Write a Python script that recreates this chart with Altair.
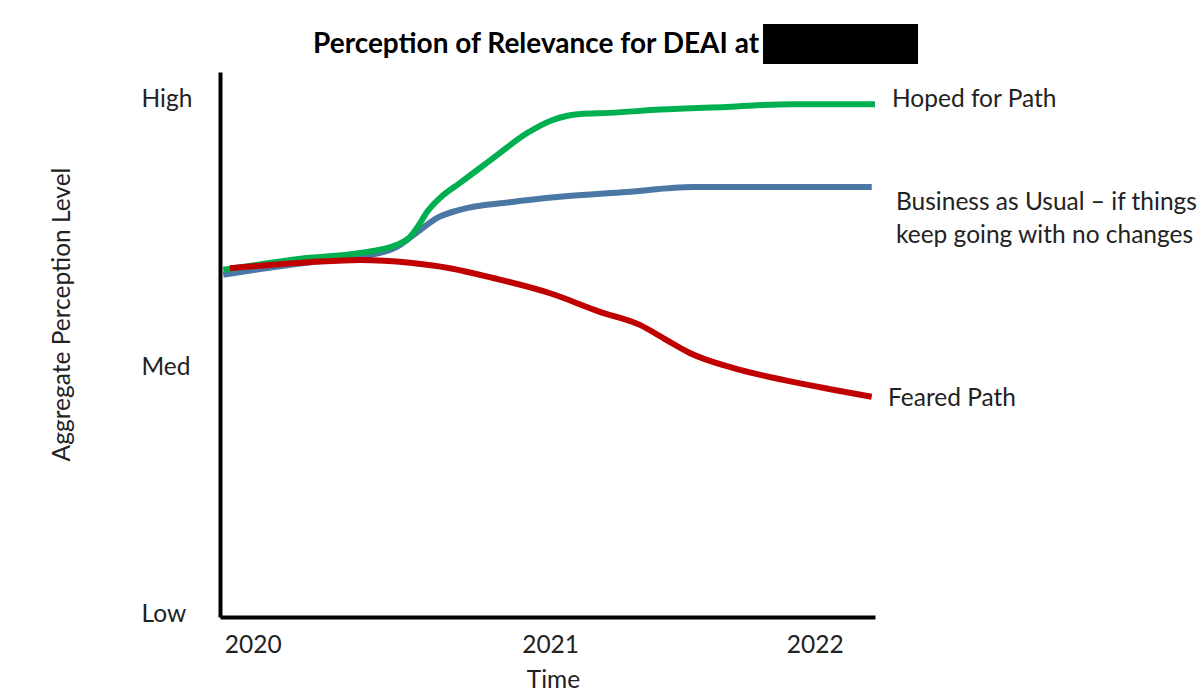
import altair as alt
import pandas as pd

# ---- data (time index 0..100 across the axis, level 0..100 Low->High) ----
bau_t = [0.5, 13.7, 21.4, 27.0, 30.1, 33.1, 36.6, 44.3, 51.9, 62.1, 72.2, 77.4, 99.5]
bau_v = [62.8, 65.1, 66.1, 67.9, 70.6, 73.2, 74.7, 76.1, 77.1, 78.0, 78.9, 78.9, 78.9]

hoped_t = [0.5, 13.7, 21.4, 27.0, 29.0, 30.2, 31.6, 33.6, 36.6, 41.7, 46.9, 50.8, 55.0, 59.5, 67.2, 77.4, 87.5, 100.0]
hoped_v = [63.7, 65.9, 66.8, 68.3, 69.7, 71.6, 74.3, 76.9, 79.6, 84.2, 88.8, 91.2, 92.3, 92.5, 93.1, 93.6, 94.1, 94.1]

feared_t = [1.5, 13.7, 21.4, 29.0, 35.1, 41.7, 50.4, 58.0, 64.1, 68.2, 71.8, 78.3, 86.0, 93.6, 99.5]
feared_v = [64.0, 65.1, 65.5, 65.0, 64.0, 62.2, 59.4, 56.0, 53.6, 50.8, 48.4, 45.7, 43.5, 41.7, 40.4]

series_names = ["Business as Usual", "Hoped for Path", "Feared Path"]
series_colors = ["#4A77A3", "#00B050", "#C00000"]

x_tick_values = [5.0, 50.4, 90.8]
x_tick_labels = ["2020", "2021", "2022"]
y_tick_values = [0.5, 45.7, 94.9]
y_tick_labels = ["Low", "Med", "High"]

label_texts = ["Business as Usual \u2013 if things\nkeep going with no changes", "Hoped for Path", "Feared Path"]
label_x = [100, 100, 100]
label_y = [76.0, 94.9, 40.0]
label_dx = [21, 17, 13]

title_text = "Perception of Relevance for DEAI at"

# ---- build tables ----
rows = []
for name, ts, vs in [(series_names[0], bau_t, bau_v),
                     (series_names[1], hoped_t, hoped_v),
                     (series_names[2], feared_t, feared_v)]:
    for t, v in zip(ts, vs):
        rows.append({"series": name, "t": t, "v": v})
df = pd.DataFrame(rows)

labels_df = pd.DataFrame({"series": series_names, "t": label_x, "v": label_y,
                          "text": label_texts})


def label_expr(values, labels):
    parts = []
    for val, lab in zip(values, labels):
        parts.append(f"abs(datum.value - {val}) < 0.01 ? '{lab}'")
    return " : ".join(parts) + " : ''"


FONT = "Lato"
FS = 24.5
x_scale = alt.Scale(domain=[0, 100], nice=False, zero=False)
y_scale = alt.Scale(domain=[0, 100], nice=False, zero=False)

x_axis = alt.Axis(values=x_tick_values, labelExpr=label_expr(x_tick_values, x_tick_labels),
                  title="Time", grid=False, ticks=False, domainColor="black", domainWidth=4,
                  labelFont=FONT, labelFontSize=FS, labelColor="#222", labelPadding=16,
                  titleFont=FONT, titleFontSize=FS, titleFontWeight="normal", titleColor="#222",
                  titleX=333, titleY=63, titleBaseline="middle")
y_axis = alt.Axis(values=y_tick_values, labelExpr=label_expr(y_tick_values, y_tick_labels),
                  title="Aggregate Perception Level", grid=False, ticks=False,
                  domainColor="black", domainWidth=4,
                  labelFont=FONT, labelFontSize=FS, labelColor="#222", labelPadding=79,
                  labelAlign="left", labelBaseline="middle",
                  titleFont=FONT, titleFontSize=FS, titleFontWeight="normal", titleColor="#222",
                  titleX=-158, titleY=242, titleBaseline="middle")

X = alt.X("t:Q", scale=x_scale, axis=x_axis)
Y = alt.Y("v:Q", scale=y_scale, axis=y_axis)

layers = []
for i, name in enumerate(series_names):
    layers.append(
        alt.Chart(df).transform_filter(alt.datum.series == name)
        .mark_line(strokeWidth=6, interpolate="monotone", color=series_colors[i], strokeCap="butt")
        .encode(x=X, y=Y, order="t:Q")
    )

label_layers = []
for i in range(len(series_names)):
    sub = labels_df.iloc[[i]]
    label_layers.append(
        alt.Chart(sub).mark_text(
            align="left", baseline="middle", font=FONT, fontSize=FS, color="#222",
            lineBreak="\n", lineHeight=33, dx=label_dx[i]
        ).encode(x=X, y=Y, text="text:N")
    )

one = pd.DataFrame({"title": [title_text]})
title_mark = alt.Chart(one).mark_text(
    align="left", baseline="middle", font=FONT, fontSize=28, fontWeight="bold", color="black"
).encode(x=alt.value(93), y=alt.value(-27), text="title:N")

redaction = alt.Chart(one).mark_rect(color="black").encode(
    x=alt.value(543), x2=alt.value(698), y=alt.value(-48), y2=alt.value(-8)
)

chart = alt.layer(*layers, *label_layers, title_mark, redaction).properties(
    width=655, height=545,
    autosize=alt.AutoSizeParams(type="none"),
    padding={"left": 220, "top": 72, "right": 329, "bottom": 79},
    background="white",
).configure_view(stroke=None)

chart.save("out.html", embed_options={"renderer": "svg", "actions": False})
